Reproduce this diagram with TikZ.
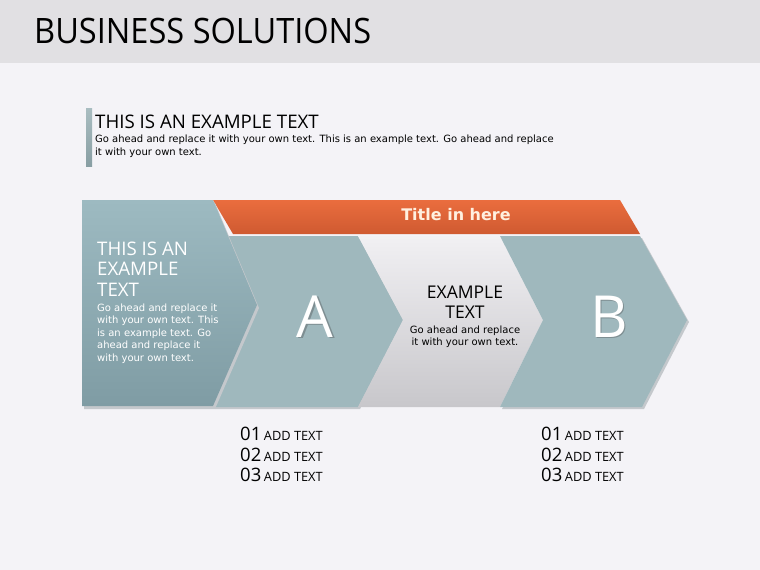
\documentclass[tikz,border=0pt]{standalone}
\usepackage{fontspec}
\setmainfont{Open Sans}
\newfontfamily\titlef[FakeStretch=0.93]{Open Sans}
\newfontfamily\bodyf{DejaVu Sans}
\definecolor{bgc}{HTML}{F4F3F7}
\definecolor{hdrc}{HTML}{E1E0E3}
\definecolor{teal1}{HTML}{9DBAC1}
\definecolor{teal2}{HTML}{7F9CA4}
\definecolor{tealc}{HTML}{9FB8BD}
\definecolor{or1}{HTML}{EA6D3E}
\definecolor{or2}{HTML}{CF5A31}
\definecolor{gr1}{HTML}{F1F0F3}
\definecolor{gr2}{HTML}{C8C7CB}
\definecolor{shc}{HTML}{C4C8CC}
\definecolor{barc1}{HTML}{A9BDC1}
\definecolor{barc2}{HTML}{889EA3}
\definecolor{lshadow}{HTML}{7E8E92}
\tikzset{
  lbl/.style={anchor=base west, inner sep=0pt},
  ctr/.style={anchor=base, inner sep=0pt},
  hd/.style={font=\fontsize{#1}{#1}\selectfont},
  bd/.style={font=\bodyf\fontsize{#1}{#1}\selectfont},
  bigletter/.style={font=\fontsize{58}{58}\selectfont, text=white, inner sep=0pt},
}
\newcommand{\shadowed}[1]{\makebox[0pt][l]{\kern1.6pt\raisebox{-1.6pt}{\color{lshadow}#1}}#1}
\begin{document}
\begin{tikzpicture}[x=1pt,y=-1pt]
\useasboundingbox (0,0) rectangle (760,570);
\fill[bgc] (0,0) rectangle (760,570);
\fill[hdrc] (0,0) rectangle (760,63);
\node[lbl, font=\titlef\fontsize{35}{35}\selectfont] (title) at (34,43.5) {BUSINESS SOLUTIONS};

% intro
\shade[top color=barc1, bottom color=barc2] (86,108) rectangle (92,166);
\node[lbl, hd=18.7] (introh) at (95,128.5) {THIS IS AN EXAMPLE TEXT};
\node[lbl, bd=10] (introb1) at (95,142) {Go ahead and replace it with your own text. This is an example text. Go ahead and replace};
\node[lbl, bd=10] (introb2) at (95,155) {it with your own text.};

% orange bar
\shade[top color=or1, bottom color=or2] (213,200) -- (620,200) -- (640,234) -- (233,234) -- cycle;
\node[text=white!88!orange, font=\bodyf\bfseries\fontsize{16}{16}\selectfont, inner sep=0pt] (ttl) at (456,215) {Title in here};

% chevrons
\fill[shc] (215,238) -- (360,238) -- (405,322) -- (360,409) -- (215,409) -- cycle;
\fill[tealc] (213,236) -- (358,236) -- (403,320) -- (358,407) -- (213,407) -- cycle;
\fill[shc] (502,238) -- (642,238) -- (689,322) -- (644,409) -- (502,409) -- (545,322) -- cycle;
\shade[top color=gr1, bottom color=gr2] (358,236) -- (500,236) -- (543,320) -- (500,407) -- (358,407) -- (403,320) -- cycle;
\fill[tealc] (500,236) -- (640,236) -- (687,320) -- (642,407) -- (500,407) -- (543,320) -- cycle;

% left box
\fill[shc] (84,203) -- (215,203) -- (259,308) -- (215,409) -- (84,409) -- cycle;
\shade[top color=teal1, bottom color=teal2] (82,200) -- (213,200) -- (257,305) -- (213,406) -- (82,406) -- cycle;

\node[lbl, hd=18.7, text=white] (lh1) at (97,255) {THIS IS AN};
\node[lbl, hd=18.7, text=white] (lh2) at (97,275.5) {EXAMPLE};
\node[lbl, hd=18.7, text=white] (lh3) at (97,296) {TEXT};
\node[lbl, bd=10, text=white] (lb1) at (97,311) {Go ahead and replace it};
\node[lbl, bd=10, text=white] (lb2) at (97,323.5) {with your own text. This};
\node[lbl, bd=10, text=white] (lb3) at (97,336) {is an example text. Go};
\node[lbl, bd=10, text=white] (lb4) at (97,348.5) {ahead and replace it};
\node[lbl, bd=10, text=white] (lb5) at (97,361) {with your own text.};

% letters
\node[bigletter, anchor=base] (A) at (315,337) {\shadowed{A}};
\node[bigletter, anchor=base] (B) at (609,337) {\shadowed{B}};

% middle text
\node[ctr, hd=17.5] (mh1) at (465,298.5) {EXAMPLE};
\node[ctr, hd=17.5] (mh2) at (465,318.5) {TEXT};
\node[ctr, bd=10] (mb1) at (465,333) {Go ahead and replace};
\node[ctr, bd=10] (mb2) at (465,345.5) {it with your own text.};

% lists
\foreach \i/\y in {1/440,2/461,3/481}{
  \node[lbl] (la\i) at (240,\y) {{\fontsize{18.5}{18.5}\selectfont 0\i} {\fontsize{12.8}{12.8}\selectfont ADD TEXT}};
  \node[lbl] (lb\i) at (541,\y) {{\fontsize{18.5}{18.5}\selectfont 0\i} {\fontsize{12.8}{12.8}\selectfont ADD TEXT}};
}
\end{tikzpicture}
\end{document}
